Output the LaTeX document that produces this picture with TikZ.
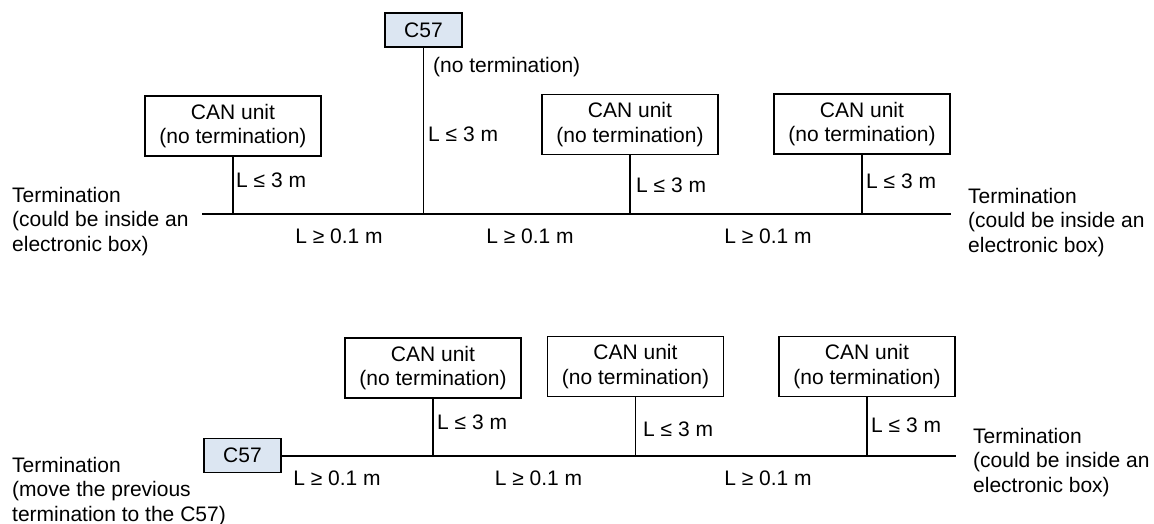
\documentclass[tikz,border=0pt]{standalone}
\usepackage{fontspec}
\setmainfont{Liberation Sans}
\definecolor{c57fill}{HTML}{DCE6F2}
\begin{document}
\begin{tikzpicture}[x=1pt,y=-1pt,
  every node/.style={font=\fontsize{21}{24.5}\selectfont, inner sep=0pt},
  unit/.style={draw, line width=1.7pt, minimum width=176pt, minimum height=60pt, align=center},
  cbox/.style={draw, line width=1.7pt, fill=c57fill, minimum width=77pt, minimum height=34pt},
  wire/.style={line width=1.7pt},
  lbl/.style={anchor=base west},
  lblc/.style={anchor=base},
  term/.style={align=left, anchor=base west}]
\useasboundingbox (0,0) rectangle (1154,524);

% ---------- top diagram ----------
\coordinate (tl) at (202,214);
\coordinate (tr) at (951,214);
\node[cbox] (c57a) at (423.5,30) {C57};
\node[unit] (u1) at (233,126) {CAN unit\\(no termination)};
\node[unit] (u2) at (630,124.5) {CAN unit\\(no termination)};
\node[unit] (u3) at (862,124) {CAN unit\\(no termination)};
\draw[wire] (tl) -- (tr);
\draw[wire] (c57a.south) -- (c57a.south |- tl);
\draw[wire] (u1.south) -- (u1.south |- tl);
\draw[wire] (u2.south) -- (u2.south |- tl);
\draw[wire] (u3.south) -- (u3.south |- tl);

\node[lbl] (nt) at (433,73) {(no termination)};
\node[lbl] (l0) at (428,142) {L ≤ 3 m};
\node[lbl] (l1) at (236,187) {L ≤ 3 m};
\node[lbl] (l2) at (636,193) {L ≤ 3 m};
\node[lbl] (l3) at (866,188) {L ≤ 3 m};
\node[lblc] (g1) at (339,243) {L ≥ 0.1 m};
\node[lblc] (g2) at (530,243) {L ≥ 0.1 m};
\node[lblc] (g3) at (768,243) {L ≥ 0.1 m};
\node[term] (tL) at (12,251) {Termination\\(could be inside an\\electronic box)};
\node[term] (tR) at (968,252) {Termination\\(could be inside an\\electronic box)};

% ---------- bottom diagram ----------
\coordinate (br) at (956,456);
\node[cbox] (c57b) at (242.5,455.5) {C57};
\node[unit] (v1) at (433,368) {CAN unit\\(no termination)};
\node[unit] (v2) at (635.5,366.5) {CAN unit\\(no termination)};
\node[unit] (v3) at (867,366.5) {CAN unit\\(no termination)};
\draw[wire] (c57b.east) -- (c57b.east |- br) -- (br);
\draw[wire] (v1.south) -- (v1.south |- br);
\draw[wire] (v2.south) -- (v2.south |- br);
\draw[wire] (v3.south) -- (v3.south |- br);

\node[lbl] (m1) at (437,429) {L ≤ 3 m};
\node[lbl] (m2) at (643,436) {L ≤ 3 m};
\node[lbl] (m3) at (871,432) {L ≤ 3 m};
\node[lblc] (h1) at (337,485) {L ≥ 0.1 m};
\node[lblc] (h2) at (538.5,485) {L ≥ 0.1 m};
\node[lblc] (h3) at (768,485) {L ≥ 0.1 m};
\node[term] (sL) at (12,521) {Termination\\(move the previous\\termination to the C57)};
\node[term] (sR) at (973,492) {Termination\\(could be inside an\\electronic box)};
\end{tikzpicture}
\end{document}
